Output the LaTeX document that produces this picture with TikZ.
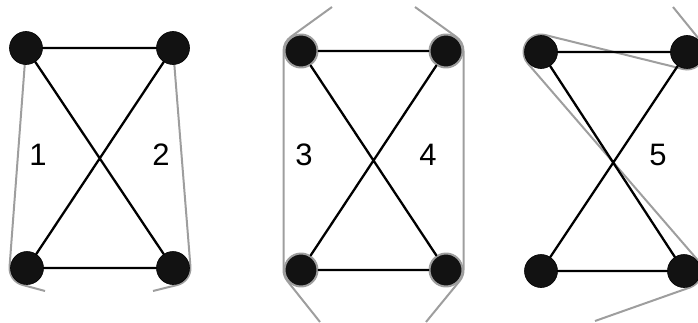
\documentclass[tikz,border=0pt]{standalone}
\usepackage{fontspec}
\setmainfont{Liberation Sans}
\usetikzlibrary{calc,backgrounds}
\definecolor{wrapgray}{RGB}{158,158,158}
\begin{document}
\begin{tikzpicture}[x=1pt, y=1pt, line join=round, line cap=round,
vertex/.style={circle, fill=black!93, draw=black, line width=.6pt, minimum size=33pt, inner sep=0pt},
link/.style={line width=2.3pt},
wrap/.style={draw=wrapgray, line width=2pt},
lbl/.style={inner sep=0pt, font=\fontsize{31}{31}\selectfont}]
\useasboundingbox (0,0) rectangle (698,322);
\foreach \n/\x/\y in {A1/26/274, B1/173/274, C1/27/54, D1/173/54, A3/541/270, B3/687/270, C3/541/51, D3/684/51}
  \node[vertex] (\n) at (\x,\y) {};
\foreach \n/\x/\y in {A2/301/271, B2/446/271, C2/301/52, D2/446/52}
  \node[vertex, draw=wrapgray, line width=2pt] (\n) at (\x,\y) {};
\foreach \i in {1,2,3}
  \draw[link] (A\i)--(B\i) (C\i)--(D\i) (A\i)--(D\i) (B\i)--(C\i);
\begin{scope}[on background layer]
% first square: two open strokes
\draw[wrap] (A1.center) -- ($(C1.center)+(176:17.5)$) arc[start angle=176, end angle=255, radius=17.5] -- (45,31);
\draw[wrap] (B1.center) -- ($(D1.center)+(4:17.5)$) arc[start angle=4, end angle=-75, radius=17.5] -- (153,31);
% second square
\draw[wrap] (332,315) -- ($(A2.center)+(125:17.5)$) arc[start angle=125, end angle=180, radius=17.5]
  -- ($(C2.center)+(180:17.5)$) arc[start angle=180, end angle=219, radius=17.5] -- (320,0);
\draw[wrap] (415,315) -- ($(B2.center)+(55:17.5)$) arc[start angle=55, end angle=0, radius=17.5]
  -- ($(D2.center)+(0:17.5)$) arc[start angle=0, end angle=-39, radius=17.5] -- (426,0);
% third square
\draw[wrap] (673,315) -- ($(B3.center)+(39:17.5)$) arc[start angle=39, end angle=-103.9, radius=17.5]
  -- ($(A3.center)+(76.1:17.5)$) arc[start angle=76.1, end angle=220.8, radius=17.5]
  -- ($(D3.center)+(40.8:17.5)$) arc[start angle=40.8, end angle=-70.5, radius=17.5] -- (595,1);
\end{scope}
\foreach \t/\x in {1/38, 2/161, 3/304, 4/428, 5/658} \node[lbl] (n\t) at (\x,167) {\t};
\end{tikzpicture}
\end{document}
